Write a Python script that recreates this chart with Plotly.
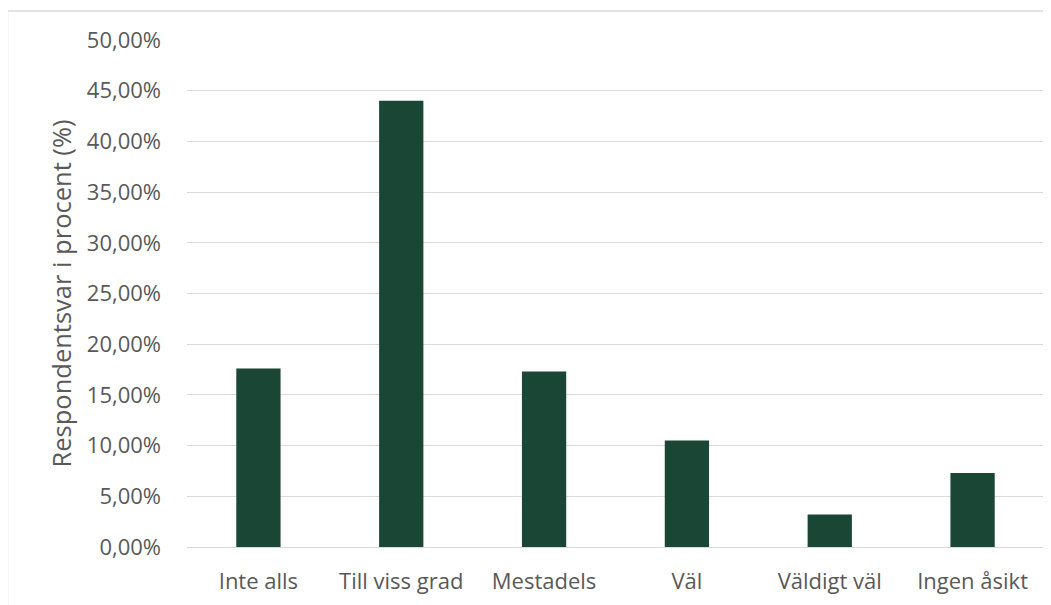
import plotly.graph_objects as go

categories = ["Inte alls", "Till viss grad", "Mestadels", "Väl", "Väldigt väl", "Ingen åsikt"]
values = [0.176, 0.440, 0.173, 0.105, 0.032, 0.073]
y_title = "Respondentsvar i procent (%)"

fig = go.Figure(go.Bar(x=categories, y=values, marker=dict(color="#1a4735", line=dict(width=0))))

font_family = "Open Sans"
fig.update_layout(
    width=1043, height=597,
    margin=dict(l=179, r=7, t=31.5, b=58),
    paper_bgcolor="white", plot_bgcolor="white",
    separators=", ",
    bargap=0.69,
    showlegend=False,
    font=dict(family=font_family, size=22, color="#595959"),
)
fig.update_yaxes(
    range=[0, 0.5], dtick=0.05, tickformat=".2%",
    showgrid=True, gridcolor="#d9d9d9", gridwidth=1.3,
    zeroline=True, zerolinecolor="#d9d9d9", zerolinewidth=1.3,
    showline=False, ticks="", ticklabelstandoff=25,
    tickfont=dict(size=22, color="#595959"),
    title=dict(text=y_title, font=dict(size=25.5, color="#595959"), standoff=7),
)
fig.update_xaxes(
    showgrid=False, showline=False, ticks="", ticklabelstandoff=19,
    tickfont=dict(size=22, color="#595959"),
)
fig.add_shape(type="rect", xref="paper", yref="paper",
              x0=-0.2095, x1=1.007, y0=-0.13, y1=1.057,
              line=dict(color="#d9d9d9", width=1.5), fillcolor="rgba(0,0,0,0)", layer="below")
fig.write_html("out.html")
